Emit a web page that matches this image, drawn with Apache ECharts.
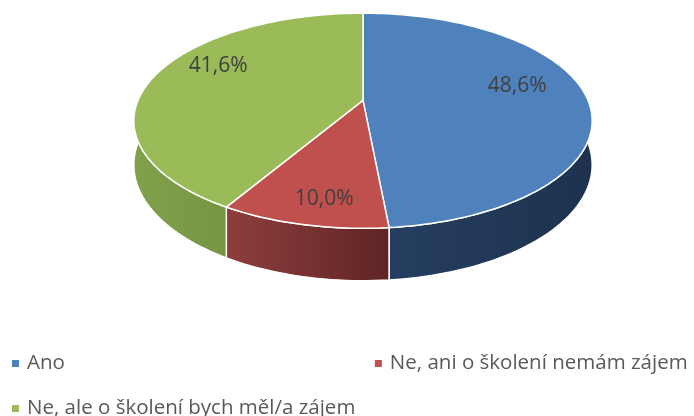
<!DOCTYPE html>
<html lang="cs">
<head>
    <meta charset="UTF-8">
    <title>Zájem o školení</title>
    <script src="https://cdn.jsdelivr.net/npm/echarts@6/dist/echarts.min.js"></script>
</head>
<body style="margin:0;background:#fff;">
    <div id="main" style="width: 694px;height: 416px;"></div>
    <script>
        var names = ['Ano', 'Ne, ani o školení nemám zájem', 'Ne, ale o školení bych měl/a zájem'];
        var values = [48.6, 10.0, 41.6];
        var labels = ['48,6%', '10,0%', '41,6%'];

        var topColors = ['#4f81bd', '#c0504d', '#9bbb59'];
        var wallColors = [['#263f62', '#1e324f'], ['#8e3e3d', '#5f2424'], ['#80a04a', '#6a883a']];

        var P = 0.19;      // perspective strength (front part bigger)
        var DEPTH = 0.41;  // height of the pie wall in y units
        var LABEL_RX = 0.69, LABEL_RY = 0.9, LABEL_DY = -0.1;

        var total = values.reduce(function (a, b) { return a + b; }, 0);

        // disc point -> unit coords used by the hidden axes
        function proj(theta, r, drop) {
            var u = -Math.cos(theta) * r;
            var s = 1 / (1 - P * u);
            return [Math.sin(theta) * r * s, (u + drop) * s];
        }

        function renderSlice(params, api) {
            var i = api.value(0);
            var before = 0;
            for (var k = 0; k < i; k++) before += values[k];
            var a0 = before / total * Math.PI * 2;
            var a1 = (before + values[i]) / total * Math.PI * 2;
            var n = Math.max(6, Math.ceil((a1 - a0) / (Math.PI / 120)));

            var topArc = [], lowArc = [];
            for (var j = 0; j <= n; j++) {
                var a = a0 + (a1 - a0) * j / n;
                topArc.push(api.coord(proj(a, 1, 0)));
                lowArc.push(api.coord(proj(a, 1, DEPTH)));
            }

            var wall = topArc.concat(lowArc.slice().reverse());
            var face = [api.coord(proj(0, 0, 0))].concat(topArc);

            var mid = (a0 + a1) / 2;
            var lx = proj(mid, LABEL_RX, 0)[0];
            var ly = proj(mid, LABEL_RY, 0)[1] + LABEL_DY;
            var lp = api.coord([lx, ly]);

            return {
                type: 'group',
                children: [{
                    type: 'polygon',
                    shape: { points: wall },
                    style: {
                        fill: {
                            type: 'linear', x: 0, y: 0, x2: 1, y2: 0,
                            colorStops: [
                                { offset: 0, color: wallColors[i][0] },
                                { offset: 1, color: wallColors[i][1] }
                            ]
                        },
                        stroke: '#fff',
                        lineWidth: 1.5
                    }
                }, {
                    type: 'polygon',
                    shape: { points: face },
                    style: { fill: topColors[i], stroke: '#fff', lineWidth: 1.5 }
                }, {
                    type: 'text',
                    x: lp[0],
                    y: lp[1],
                    style: {
                        text: labels[i],
                        fill: '#404040',
                        font: '21px "Open Sans"',
                        align: 'center',
                        verticalAlign: 'middle'
                    }
                }]
            };
        }

        var chart = echarts.init(document.getElementById('main'));

        var legendText = { fontFamily: 'Open Sans', fontSize: 20.5, color: '#595959', padding: [0, 0, 0, 3] };

        var option = {
            animation: false,
            grid: { left: 138, width: 450, top: 7, height: 311 },
            xAxis: { type: 'value', min: -1, max: 1, show: false },
            yAxis: { type: 'value', min: -0.9, max: 2.1, inverse: true, show: false },
            legend: [{
                data: [names[0], names[1]],
                left: 12, top: 353, padding: 0,
                icon: 'rect', itemWidth: 7, itemHeight: 7, itemGap: 310,
                selectedMode: false,
                textStyle: legendText
            }, {
                data: [names[2]],
                left: 12, top: 398, padding: 0,
                icon: 'rect', itemWidth: 7, itemHeight: 7,
                selectedMode: false,
                textStyle: legendText
            }],
            series: names.map(function (name, i) {
                return {
                    type: 'custom',
                    name: name,
                    itemStyle: { color: topColors[i] },
                    renderItem: renderSlice,
                    data: [[i]]
                };
            })
        };
        chart.setOption(option);
    </script>
</body>
</html>
